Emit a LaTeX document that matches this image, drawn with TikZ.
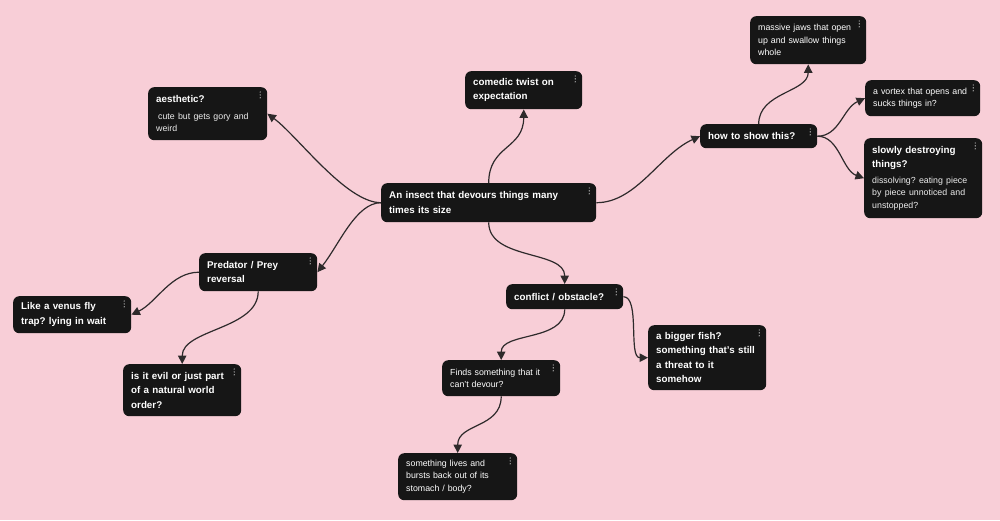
\documentclass[tikz,border=0pt]{standalone}
\usepackage{fontspec}
\setmainfont{Liberation Sans}
\usetikzlibrary{arrows.meta,calc}
\definecolor{bgpink}{HTML}{F8CED7}
\definecolor{nodebg}{HTML}{161616}
\definecolor{edgec}{HTML}{2E2A2B}
\definecolor{dotc}{HTML}{B8B8B8}
\definecolor{bodytext}{HTML}{EDEDED}
\newcommand\mmtitle{\fontsize{9.8}{14.5}\selectfont\bfseries}
\newcommand\mmbody{\fontsize{8.8}{12.6}\selectfont\mdseries\color{bodytext}}
\begin{document}
\frenchspacing
\begin{tikzpicture}[x=1pt,y=-1pt,
 card/.style={fill=nodebg, rounded corners=6pt, text=white, anchor=north west,
   align=left, inner xsep=8pt, inner ysep=3pt, font=\mmtitle,
   path picture={\foreach \k in {0,1,2}{\fill[dotc] ($(path picture bounding box.north east)+(-7pt,-4.8pt-\k*2.9pt)$) circle (0.7pt);}}},
 link/.style={draw=edgec, line width=1.2pt, -{Triangle[length=8.5pt,width=8.5pt]}}
]
\fill[bgpink] (0,0) rectangle (1000,520);
\useasboundingbox (0,0) rectangle (1000,520);

\node[card, text width=103pt, minimum height=53pt] (aes) at (148,87)
  {{\mmtitle\raggedright aesthetic?\par}\vspace{4pt}{\mmbody\raggedright\hspace{2pt}cute but gets gory and\\weird\par}};
\node[card, text width=101pt, minimum height=38pt] (com) at (465,71)
  {comedic twist on\\expectation};
\node[card, text width=100pt, minimum height=48pt, font=\mmbody] (jaws) at (750,16)
  {massive jaws that open\\up and swallow things\\whole};
\node[card, text width=101pt, minimum height=24pt] (how) at (700,124)
  {how to show this?};
\node[card, text width=99pt, minimum height=36pt, font=\mmbody] (vortex) at (865,80)
  {a vortex that opens and\\sucks things in?};
\node[card, text width=102pt, minimum height=80pt] (slowly) at (864,138)
  {{\mmtitle\raggedright slowly destroying\\things?\par}\vspace{3pt}{\mmbody\raggedright dissolving? eating piece\\by piece unnoticed and\\unstopped?\par}};
\node[card, text width=199pt, minimum height=39pt] (main) at (381,183)
  {An insect that devours things many\\times its size};
\node[card, text width=102pt, minimum height=38pt] (pred) at (199,253)
  {Predator / Prey\\reversal};
\node[card, text width=102pt, minimum height=37pt] (venus) at (13,296)
  {Like a venus fly\\trap? lying in wait};
\node[card, text width=102pt, minimum height=52pt] (evil) at (123,364)
  {is it evil or just part\\of a natural world\\order?};
\node[card, text width=101pt, minimum height=25pt] (conf) at (506,284)
  {conflict / obstacle?};
\node[card, text width=102pt, minimum height=36pt, font=\mmbody] (finds) at (442,360)
  {Finds something that it\\can't devour?};
\node[card, text width=102pt, minimum height=65pt] (fish) at (648,325)
  {a bigger fish?\\something that's still\\a threat to it\\somehow};
\node[card, text width=103pt, minimum height=47pt, font=\mmbody] (lives) at (398,453)
  {something lives and\\bursts back out of its\\stomach / body?};

\draw[link] (main.west) .. controls +(-35,0) and +(30,22) .. (aes.east);
\draw[link] (main.west) .. controls +(-25,0) and +(22,-28) .. (pred.east);
\draw[link] (main.north) .. controls +(0,-38) and +(0,40) .. (com.south);
\draw[link] (main.east) .. controls +(40,0) and +(-40,18) .. (how.west);
\draw[link] (how.north) .. controls +(0,-32) and +(0,28) .. (jaws.south);
\draw[link] (how.east) .. controls +(22,0) and +(-22,10) .. (vortex.west);
\draw[link] (how.east) .. controls +(22,0) and +(-22,-8) .. (slowly.west);
\draw[link] (main.south) .. controls +(0,38) and +(0,-34) .. (conf.north);
\draw[link] (conf.east) .. controls +(17,0) and +(-20,0) .. (fish.west);
\draw[link] (conf.south) .. controls +(0,32) and +(0,-28) .. (finds.north);
\draw[link] (finds.south) .. controls +(0,32) and +(0,-30) .. (lives.north);
\draw[link] (pred.west) .. controls +(-28,0) and +(25,-12) .. (venus.east);
\draw[link] (pred.south) .. controls +(0,38) and +(0,-35) .. (evil.north);
\end{tikzpicture}
\end{document}
